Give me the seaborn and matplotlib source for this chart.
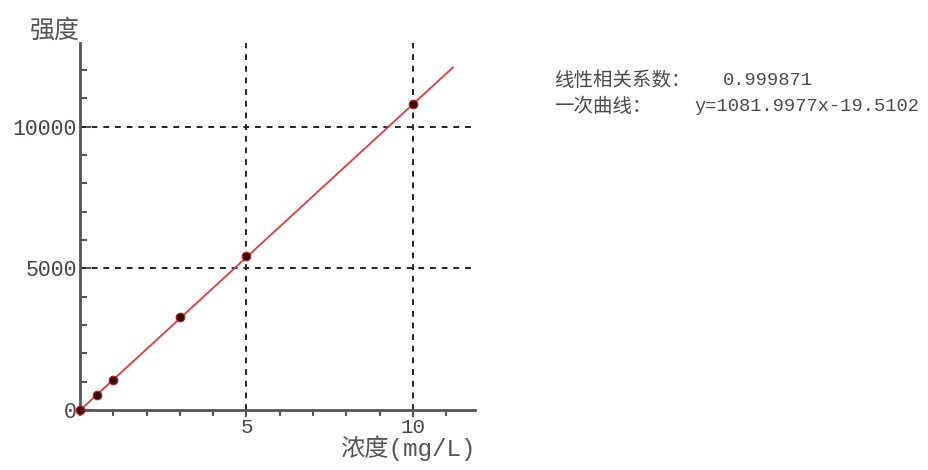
import numpy as np
import pandas as pd
import seaborn as sns
import matplotlib.pyplot as plt
from matplotlib.ticker import MultipleLocator

# calibration points
conc = [0, 0.5, 1, 3, 5, 10]
intensity = [0, 530, 1060, 3280, 5450, 10820]

# fit reported on the chart
r_value = "0.999871"
slope = 1081.9977
intercept = -19.5102
fit_range = [0, 11.2]

x_ticks = [5, 10]
y_ticks = [0, 5000, 10000]

df = pd.DataFrame({"浓度": conc, "强度": intensity})
fit = pd.DataFrame({"x": fit_range})
fit["y"] = slope * fit["x"] + intercept

sns.set_style("white")
plt.rcParams['font.family'] = ['Liberation Mono', 'Noto Sans CJK SC', 'DejaVu Sans']

fig = plt.figure(figsize=(9.29, 4.70), dpi=100)
ax = fig.add_axes([0.086, 0.128, 0.425, 0.78])

sns.lineplot(data=fit, x="x", y="y", ax=ax, color="#e8383a", lw=1.3, zorder=3)
sns.scatterplot(data=df, x="浓度", y="强度", ax=ax, color="#3a0808",
                edgecolor="#b01818", s=38, linewidth=0.8, zorder=4, clip_on=False)

ax.set_xlim(0, 11.85)
ax.set_ylim(0, 12950)
ax.set_xticks(x_ticks)
ax.set_yticks(y_ticks)
ax.xaxis.set_minor_locator(MultipleLocator(1))
ax.yaxis.set_minor_locator(MultipleLocator(1000))

grey = "#555555"
for s in ["top", "right"]:
    ax.spines[s].set_visible(False)
for s in ["left", "bottom"]:
    ax.spines[s].set_color(grey)
    ax.spines[s].set_linewidth(2)

ax.tick_params(axis="x", which="both", bottom=True)
ax.tick_params(axis="y", which="both", left=True)
ax.tick_params(axis="x", which="major", direction="out", length=5, width=1.5,
               color=grey, labelsize=15, labelcolor="#444455", pad=1)
ax.tick_params(axis="x", which="minor", direction="out", length=4, width=1.5, color=grey)
ax.tick_params(axis="y", which="major", direction="in", length=8, width=1.5,
               color=grey, labelsize=15.5, labelcolor="#444455", pad=2)
ax.tick_params(axis="y", which="minor", direction="in", length=5, width=1.5, color=grey)

for v in x_ticks:
    ax.axvline(v, color="#222222", ls=(0, (3, 3)), lw=1.4, zorder=1)
for v in y_ticks[1:]:
    ax.axhline(v, color="#222222", ls=(0, (3, 3)), lw=1.4, zorder=1, clip_on=False)

ax.set_xlabel("")
ax.set_ylabel("")
fig.text(0.032, 0.935, "强度", fontsize=18, color="#555555", va="center")
fig.text(0.366, 0.046, "浓度(mg/L)", fontsize=17.5, color="#555555", va="center")

txt = dict(color="#4a4a4a", va="center")
fig.text(0.597, 0.828, "线性相关系数：", fontsize=14, **txt)
fig.text(0.778, 0.828, r_value, fontsize=13.5, **txt)
fig.text(0.597, 0.773, "一次曲线：", fontsize=14, **txt)
fig.text(0.748, 0.773, f"y={slope:.4f}x{intercept:.4f}", fontsize=13.5, **txt)

fig.savefig("out.png", dpi=100)
